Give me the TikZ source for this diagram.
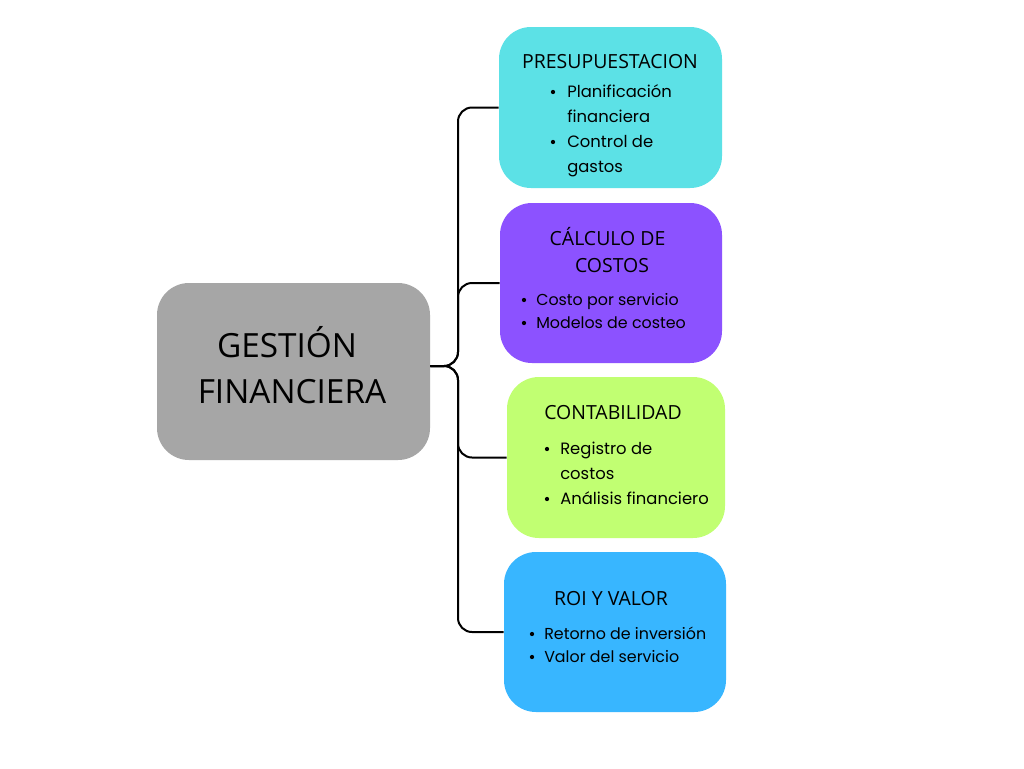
\documentclass[tikz,border=0pt]{standalone}
\usepackage{fontspec}
\setmainfont{Open Sans}
\newfontfamily\bulletfont{Poppins}
\definecolor{cCyan}{HTML}{5CE1E6}
\definecolor{cPurple}{HTML}{8C52FF}
\definecolor{cLime}{HTML}{C1FF72}
\definecolor{cBlue}{HTML}{38B6FF}
\definecolor{cGrey}{HTML}{A6A6A6}
\tikzset{
  blob/.style={rounded corners=24pt, inner sep=0pt},
  conn/.style={line width=1.5pt, rounded corners=10.5pt},
  head/.style={anchor=base, inner sep=0pt, font=\fontsize{14.6}{17}\selectfont},
  big/.style={anchor=base, inner sep=0pt, font=\fontsize{25}{29}\selectfont},
  itm/.style={anchor=base west, inner sep=0pt, font=\bulletfont\fontsize{12.3}{14}\selectfont},
  itms/.style={anchor=base west, inner sep=0pt, font=\bulletfont\fontsize{11.9}{14}\selectfont},
  dot/.style={circle, fill=black, inner sep=0pt, minimum size=3.2pt},
}
\begin{document}
\begin{tikzpicture}[x=0.75pt,y=-0.75pt]
\useasboundingbox[fill=white] (0,0) rectangle (1024,768);
% boxes
\node[blob, fill=cGrey, minimum width=204.75pt, minimum height=132.75pt] (g) at (293.5,371.5) {};
\node[blob, fill=cCyan, minimum width=167.25pt, minimum height=120.75pt] (b1) at (610.5,107.5) {};
\node[blob, fill=cPurple, minimum width=166.5pt, minimum height=120pt] (b2) at (611,283) {};
\node[blob, fill=cLime, minimum width=163.5pt, minimum height=120.75pt] (b3) at (616,457.5) {};
\node[blob, fill=cBlue, minimum width=166.5pt, minimum height=120pt] (b4) at (615,632) {};
% connectors
\coordinate (hub) at (458,366);
\draw[conn] (g.east |- hub) -- (hub) |- (b1.west);
\draw[conn] (g.east |- hub) -- (hub) |- (b2.west);
\draw[conn] (g.east |- hub) -- (hub) |- (b3.west);
\draw[conn] (g.east |- hub) -- (hub) |- (b4.west);
% central text
\node[big] (g1) at (287,357) {GESTIÓN};
\node[big] (g2) at (292,403) {FINANCIERA};
% box 1
\node[head] (h1) at (610,68) {PRESUPUESTACION};
\node[dot] (d11) at (553,92) {};
\node[itm] (t11) at (567,97) {Planificación};
\node[itm] (t12) at (567,122) {financiera};
\node[dot] (d12) at (553,142) {};
\node[itm] (t13) at (567,147) {Control de};
\node[itm] (t14) at (567,172) {gastos};
% box 2
\node[head] (h2a) at (607.5,245) {CÁLCULO DE};
\node[head] (h2b) at (612,272) {COSTOS};
\node[dot] (d21) at (524,300) {};
\node[itms] (t21) at (536,305) {Costo por servicio};
\node[dot] (d22) at (524,323) {};
\node[itms] (t22) at (536,328) {Modelos de costeo};
% box 3
\node[head] (h3) at (613,419) {CONTABILIDAD};
\node[dot] (d31) at (547,449) {};
\node[itm] (t31) at (560,454) {Registro de};
\node[itm] (t32) at (560,479) {costos};
\node[dot] (d32) at (547,499) {};
\node[itm] (t33) at (560,504) {Análisis financiero};
% box 4
\node[head] (h4) at (611,605) {ROI Y VALOR};
\node[dot] (d41) at (532,634) {};
\node[itms] (t41) at (544,639) {Retorno de inversión};
\node[dot] (d42) at (532,657) {};
\node[itms] (t42) at (544,662) {Valor del servicio};
\end{tikzpicture}
\end{document}
